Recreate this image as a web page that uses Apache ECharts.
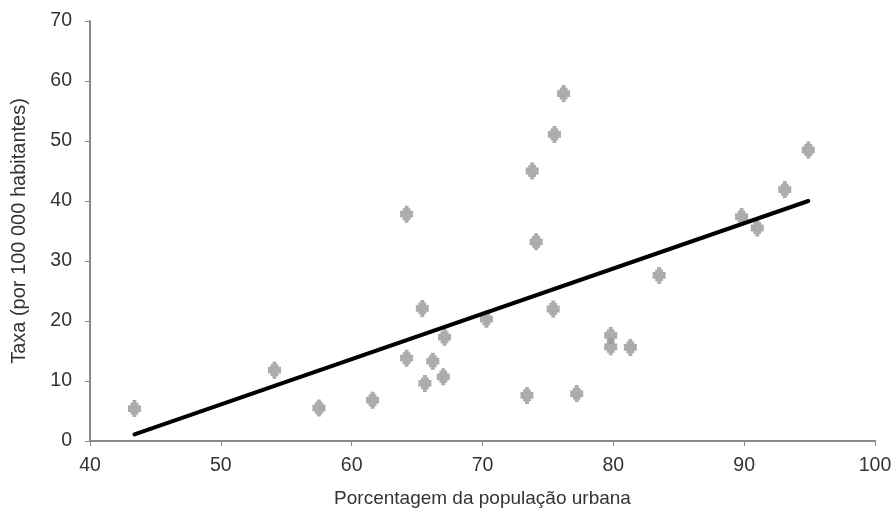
<!DOCTYPE html>
<html>
<head>
<meta charset="utf-8">
<script src="https://cdn.jsdelivr.net/npm/echarts@6/dist/echarts.min.js"></script>
<style>
  html, body { margin: 0; padding: 0; background: #fff; }
  #main { width: 895px; height: 511px; }
</style>
</head>
<body>
<div id="main"></div>
<script>
// % população urbana vs taxa (por 100 000 habitantes)
const urbanPct = [43.4, 54.1, 57.5, 61.6, 64.2, 64.2, 65.4, 65.6, 66.2, 67.1, 67.0,
  70.3, 73.4, 73.8, 74.1, 75.4, 75.5, 76.2, 77.2, 79.8, 79.8, 81.3, 83.5,
  89.8, 91.0, 93.1, 94.9];
const rate = [5.4, 11.8, 5.5, 6.8, 37.8, 13.8, 22.1, 9.6, 13.3, 17.3, 10.7,
  20.3, 7.6, 45.0, 33.2, 22.0, 51.1, 57.9, 7.9, 17.6, 15.7, 15.6, 27.6,
  37.4, 35.5, 41.9, 48.5];

// linha de tendência (extremos)
const trendX = [43.4, 94.9];
const trendY = [1.1, 40.0];

const xTicks = { min: 40, max: 100, interval: 10 };
const yTicks = { min: 0, max: 70, interval: 10 };

const FONT = 'Liberation Sans';
const AXIS_GRAY = '#8a8a8a';

const chart = echarts.init(document.getElementById('main'), null, { renderer: 'canvas' });

const option = {
  animation: false,
  backgroundColor: '#fff',
  grid: {
    left: 90, right: 20, top: 21, bottom: 70,
    containLabel: false,
    outerBoundsMode: 'none'
  },
  xAxis: {
    type: 'value',
    min: xTicks.min, max: xTicks.max, interval: xTicks.interval,
    name: 'Porcentagem da população urbana',
    nameLocation: 'middle',
    nameGap: 48,
    nameTextStyle: { fontFamily: FONT, fontSize: 19, color: '#333' },
    axisLine: { show: true, lineStyle: { color: AXIS_GRAY, width: 2 } },
    axisTick: { show: true, length: 5, lineStyle: { color: AXIS_GRAY, width: 1 } },
    axisLabel: { margin: 15, fontFamily: FONT, fontSize: 19.5, color: '#333' },
    splitLine: { show: false }
  },
  yAxis: {
    type: 'value',
    min: yTicks.min, max: yTicks.max, interval: yTicks.interval,
    name: 'Taxa (por 100 000 habitantes)',
    nameLocation: 'middle',
    nameRotate: 90,
    nameGap: 61,
    nameTextStyle: { fontFamily: FONT, fontSize: 20, color: '#333' },
    axisLine: { show: true, lineStyle: { color: AXIS_GRAY, width: 2 } },
    axisTick: { show: true, length: 5, lineStyle: { color: AXIS_GRAY, width: 1 } },
    axisLabel: { margin: 18, fontFamily: FONT, fontSize: 19.5, color: '#333' },
    splitLine: { show: false }
  },
  series: [
    {
      type: 'scatter',
      data: urbanPct.map((x, i) => [x, rate[i]]),
      symbol: 'path://M35,0 L65,0 L65,15 L80,15 L80,30 L100,30 L100,70 L80,70 L80,85 L65,85 L65,100 L35,100 L35,85 L20,85 L20,70 L0,70 L0,30 L20,30 L20,15 L35,15 Z',
      symbolSize: [13, 17],
      itemStyle: { color: '#979797' },
      z: 2
    },
    {
      type: 'line',
      data: trendX.map((x, i) => [x, trendY[i]]),
      showSymbol: false,
      symbol: 'none',
      lineStyle: { color: '#000', width: 4, cap: 'round' },
      z: 3
    }
  ]
};

chart.setOption(option);
</script>
</body>
</html>
